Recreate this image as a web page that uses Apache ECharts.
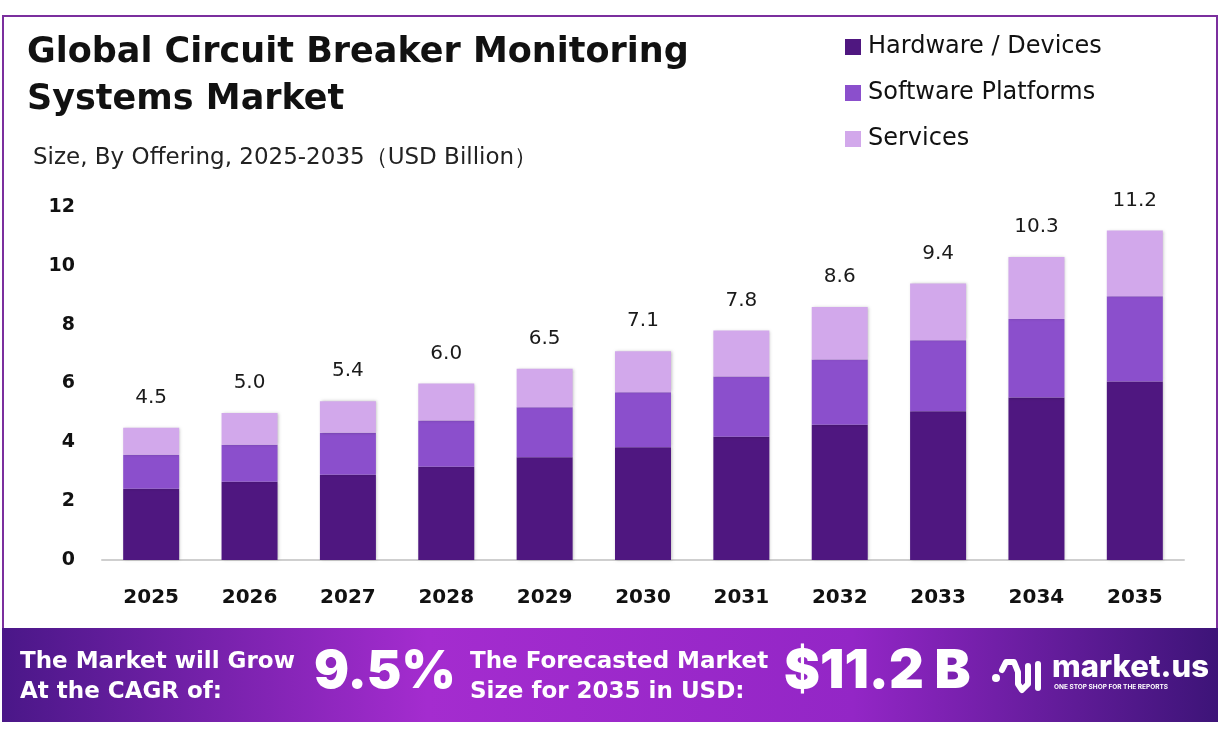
<!DOCTYPE html>
<html lang="en">
<head>
<meta charset="UTF-8">
<title>Global Circuit Breaker Monitoring Systems Market</title>
<script src="https://cdn.jsdelivr.net/npm/echarts@6/dist/echarts.min.js"></script>
<style>
html, body { margin: 0; padding: 0; background: #fff; }
#main { width: 1220px; height: 741px; }
</style>
</head>
<body>
<div id="main"></div>
<script type="text/javascript">
// data
var years = ['2025', '2026', '2027', '2028', '2029', '2030', '2031', '2032', '2033', '2034', '2035'];
var hardware = [2.42, 2.66, 2.90, 3.17, 3.49, 3.83, 4.19, 4.60, 5.06, 5.52, 6.07];
var software = [1.16, 1.26, 1.43, 1.57, 1.70, 1.87, 2.05, 2.22, 2.41, 2.67, 2.90];
var services = [0.92, 1.08, 1.07, 1.26, 1.31, 1.40, 1.56, 1.78, 1.93, 2.11, 2.23];
var totals = ['4.5', '5.0', '5.4', '6.0', '6.5', '7.1', '7.8', '8.6', '9.4', '10.3', '11.2'];
var seriesNames = ['Hardware / Devices', 'Software Platforms', 'Services'];
var colors = ['#4f1780', '#8b4fcc', '#d2a8eb'];

var font = '"DejaVu Sans", Inter, sans-serif';
var heavy = 'Inter, "Noto Sans", sans-serif';
var chart = echarts.init(document.getElementById('main'));

function barSeries(name, values, color, withTotal) {
    var s = {
        name: name,
        type: 'bar',
        stack: 'total',
        barWidth: 56,
        data: values,
        itemStyle: {
            color: color,
            shadowColor: 'rgba(0,0,0,0.25)',
            shadowBlur: 3,
            shadowOffsetX: 1
        }
    };
    if (withTotal) {
        s.label = {
            show: true,
            position: 'top',
            distance: 20,
            fontFamily: font,
            fontSize: 20,
            color: '#1a1a1a',
            formatter: function (p) { return totals[p.dataIndex]; }
        };
    }
    return s;
}

var option = {
    backgroundColor: '#fff',
    animation: false,
    color: colors,
    title: {
        text: 'Global Circuit Breaker Monitoring\nSystems Market',
        left: 22,
        top: 24,
        textStyle: {
            fontFamily: font,
            fontWeight: 'bold',
            fontSize: 35,
            lineHeight: 47,
            color: '#111'
        }
    },
    legend: {
        orient: 'vertical',
        left: 840,
        top: 30,
        itemWidth: 16,
        itemHeight: 16,
        itemGap: 22,
        icon: 'rect',
        data: seriesNames,
        textStyle: {
            fontFamily: font,
            fontSize: 24,
            color: '#111',
            padding: [0, 0, 0, 2]
        }
    },
    grid: {
        left: 102,
        right: 36,
        top: 207,
        bottom: 181,
        containLabel: false
    },
    xAxis: {
        type: 'category',
        data: years,
        axisTick: { show: false },
        axisLine: { lineStyle: { color: '#cfcfcf', width: 2 } },
        axisLabel: {
            margin: 28,
            fontFamily: font,
            fontWeight: 'bold',
            fontSize: 20,
            color: '#111'
        }
    },
    yAxis: {
        type: 'value',
        min: 0,
        max: 12,
        interval: 2,
        splitLine: { show: false },
        axisLine: { show: false },
        axisTick: { show: false },
        axisLabel: {
            margin: 27,
            fontFamily: font,
            fontWeight: 'bold',
            fontSize: 19,
            color: '#111'
        }
    },
    series: [
        barSeries(seriesNames[0], hardware, colors[0], false),
        barSeries(seriesNames[1], software, colors[1], false),
        barSeries(seriesNames[2], services, colors[2], true)
    ],
    graphic: [
        // outer frame
        {
            type: 'rect',
            shape: { x: 3, y: 16, width: 1214, height: 620 },
            style: { fill: 'none', stroke: '#7b2f9e', lineWidth: 2 },
            z: -1
        },
        {
            type: 'text',
            left: 33,
            top: 147,
            style: {
                text: 'Size, By Offering, 2025-2035（USD Billion）',
                fontFamily: font,
                fontSize: 23,
                fill: '#222'
            }
        },
        // footer banner
        {
            type: 'rect',
            shape: { x: 2, y: 628, width: 1216, height: 94 },
            style: {
                fill: new echarts.graphic.LinearGradient(0, 0, 1, 0, [
                    { offset: 0, color: '#4a1788' },
                    { offset: 0.35, color: '#a42ccf' },
                    { offset: 0.7, color: '#9326c6' },
                    { offset: 1, color: '#3d1478' }
                ])
            }
        },
        {
            type: 'text',
            left: 20,
            top: 647,
            style: {
                text: 'The Market will Grow\nAt the CAGR of:',
                fontFamily: font,
                fontWeight: 'bold',
                fontSize: 23,
                lineHeight: 30,
                fill: '#fff'
            }
        },
        {
            type: 'text',
            left: 314,
            top: 646,
            style: {
                text: '9.5%',
                fontFamily: heavy,
                fontWeight: 900,
                fontSize: 52,
                fill: '#fff',
                shadowColor: 'rgba(0,0,0,0.35)',
                shadowBlur: 6,
                shadowOffsetY: 3
            }
        },
        {
            type: 'text',
            left: 470,
            top: 647,
            style: {
                text: 'The Forecasted Market\nSize for 2035 in USD:',
                fontFamily: font,
                fontWeight: 'bold',
                fontSize: 23,
                lineHeight: 30,
                fill: '#fff'
            }
        },
        {
            type: 'text',
            left: 784,
            top: 645,
            style: {
                text: '$11.2 B',
                fontFamily: heavy,
                fontWeight: 900,
                fontSize: 54,
                fill: '#fff',
                shadowColor: 'rgba(0,0,0,0.35)',
                shadowBlur: 6,
                shadowOffsetY: 3
            }
        },
        // logo mark
        {
            type: 'circle',
            shape: { cx: 996, cy: 678, r: 4 },
            style: { fill: '#fff' }
        },
        {
            type: 'polyline',
            shape: { points: [[1002, 670], [1006, 662], [1014, 662], [1018, 672], [1018, 684], [1022, 690], [1028, 684], [1028, 666]] },
            style: { stroke: '#fff', lineWidth: 6, fill: 'none', lineCap: 'round', lineJoin: 'round' }
        },
        {
            type: 'line',
            shape: { x1: 1038, y1: 664, x2: 1038, y2: 688 },
            style: { stroke: '#fff', lineWidth: 6, lineCap: 'round' }
        },
        {
            type: 'text',
            left: 1052,
            top: 652,
            style: {
                text: 'market.us',
                fontFamily: heavy,
                fontWeight: 800,
                fontSize: 31,
                fill: '#fff'
            }
        },
        {
            type: 'text',
            left: 1054,
            top: 684,
            style: {
                text: 'ONE STOP SHOP FOR THE REPORTS',
                fontFamily: heavy,
                fontWeight: 700,
                fontSize: 6.5,
                fill: '#fff'
            }
        }
    ]
};

chart.setOption(option);
</script>
</body>
</html>
